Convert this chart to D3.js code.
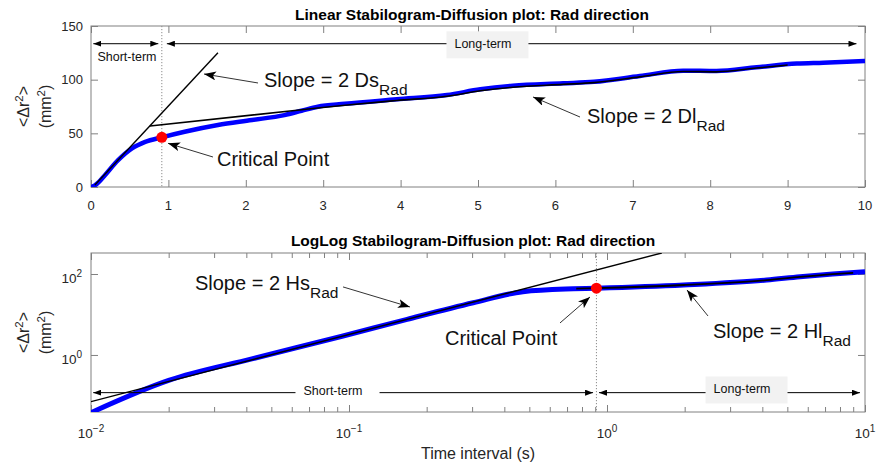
<!DOCTYPE html>
<html><head><meta charset="utf-8">
<script src="https://cdn.jsdelivr.net/npm/d3@7"></script>
<style>
body{margin:0;background:#fff}
text{font-family:"Liberation Sans",Arial,Helvetica,sans-serif}
</style>
</head><body>
<svg id="c" width="876" height="466"></svg>
<script>
// ---------------- DATA ----------------
// Linear panel: mean square displacement vs time interval
const linTime = [0, 0.05, 0.1, 0.18, 0.35, 0.53, 0.7, 0.915, 1.21, 1.64, 2.08, 2.5, 2.72, 2.93, 3.28, 3.95, 4.6, 5.03, 5.45, 6.1, 6.5, 7.09, 7.65, 8.08, 8.6, 9.12, 9.46, 10];
const linMSD  = [0, 1.5, 4.5, 11, 25, 36, 42, 46.3, 51.5, 57.8, 62.4, 67, 71, 74.8, 77.5, 81.7, 85.7, 91, 94.4, 96.6, 98, 103.4, 108.4, 108, 111.5, 115, 115.8, 117.4];
const linShortFitTime = [0.05, 1.64];
const linShortFitMSD  = [1.9, 125];
const linLongFitTime = [0.762, 2.6, 2.93, 3.28, 3.95, 4.6, 5.03, 5.45, 6.1, 6.5, 7.09, 7.65, 8.08, 8.6, 9.0];
const linLongFitMSD  = [56.8, 71, 73.6, 76.2, 80.6, 84.6, 89.6, 93, 95.6, 97.2, 102.6, 107.6, 107.3, 110.8, 113.6];
// LogLog panel
const logTime = [0.01, 0.02, 0.042, 0.094, 0.168, 0.303, 0.472, 0.74, 0.91, 1.98, 4.16, 5.6, 7.5, 10];
const logMSD  = [0.0376, 0.235, 0.8, 2.9, 7.6, 19.5, 36.5, 43, 44.6, 53.5, 70.9, 85.8, 100, 114];
const logShortFitTime = [0.01, 1.63];
const logShortFitMSD  = [0.0703, 330];
const logLongFitTime = [0.76, 0.91, 1.98, 4.16, 5.6, 7.5, 9.0];
const logLongFitMSD  = [43.3, 44.6, 53.5, 70.2, 84.5, 99, 107];
// Critical point (linear panel, loglog panel)
const criticalTime = [0.915, 0.91];
const criticalMSD  = [46.3, 44.5];
// Ticks
const linXTicks = [0, 1, 2, 3, 4, 5, 6, 7, 8, 9, 10];
const linYTicks = [0, 50, 100, 150];
const logXTicks = [0.01, 0.1, 1, 10];
const logXMinor = [0.02,0.03,0.04,0.05,0.06,0.07,0.08,0.09,0.2,0.3,0.4,0.5,0.6,0.7,0.8,0.9,2,3,4,5,6,7,8,9];
const logYTicks = [1, 100];
const titles = ["Linear Stabilogram-Diffusion plot: Rad direction", "LogLog Stabilogram-Diffusion plot: Rad direction"];
// Annotations (in data coordinates)
const linNotes = [
  {text:"Slope = 2 Ds", sub:"Rad", t:2.235, v:93.2, tailT:2.158, tailV:96.9, headT:1.46, headV:105.3},
  {text:"Critical Point", sub:"", t:1.628, v:19.1, tailT:1.576, tailV:27.95, headT:0.995, headV:40.7},
  {text:"Slope = 2 Dl", sub:"Rad", t:6.408, v:59.6, tailT:6.318, tailV:65.2, headT:5.711, headV:83.9}
];
const logNotes = [
  {text:"Slope = 2 Hs", sub:"Rad", t:0.02529, v:40.3, tailT:0.0948, tailV:47.9, headT:0.1723, headV:15.3},
  {text:"Critical Point", sub:"", t:0.2356, v:1.766, tailT:0.6574, tailV:6.17, headT:0.8593, headV:27.1},
  {text:"Slope = 2 Hl", sub:"Rad", t:2.576, v:2.556, tailT:2.463, tailV:9.19, headT:2.042, headV:40.3}
];
const linSpans = [
  {t0:0.03, t1:0.87, v:133.5, label:"Short-term", lt:0.465, lv:117.4, box:null},
  {t0:0.98, t1:9.89, v:133.5, label:"Long-term", lt:5.064, lv:129.2, box:"#f2f2f2"}
];
const logSpans = [
  {t0:0.0102, t1:0.883, v:0.1172, label:"Short-term", lt:0.0867, lv:0.1027, box:"#ffffff"},
  {t0:0.931, t1:9.56, v:0.1172, label:"Long-term", lt:3.337, lv:0.112, box:"#f2f2f2"}
];

// ---------------- LAYOUT ----------------
const svg = d3.select("#c");
const L = 91, R = 865;
const P1 = {top:26, bottom:187}, P2 = {top:253, bottom:412};
const FRAME = "#808080", TXT = "#262626";

const x1 = d3.scaleLinear().domain([0,10]).range([L,R]);
const y1 = d3.scaleLinear().domain([0,150]).range([P1.bottom,P1.top]);
const x2 = d3.scaleLog().domain([0.01,10]).range([L,R]);
const y2 = d3.scaleLog().domain([0.039,330]).range([P2.bottom,P2.top]);

const defs = svg.append("defs");
[["clip1",P1],["clip2",P2]].forEach(([id,P])=>{
  defs.append("clipPath").attr("id",id).append("rect")
    .attr("x",L).attr("y",P.top).attr("width",R-L).attr("height",P.bottom-P.top);
});
defs.append("marker").attr("id","head").attr("viewBox","0 0 12 9")
  .attr("refX",12).attr("refY",4.5).attr("markerWidth",12).attr("markerHeight",9)
  .attr("markerUnits","userSpaceOnUse").attr("orient","auto")
  .append("path").attr("d","M0,0 L12,4.5 L0,9 L3,4.5 Z").attr("fill","#000");
defs.append("marker").attr("id","span").attr("viewBox","0 0 8 6")
  .attr("refX",8).attr("refY",3).attr("markerWidth",8).attr("markerHeight",6)
  .attr("markerUnits","userSpaceOnUse").attr("orient","auto-start-reverse")
  .append("path").attr("d","M0,0 L8,3 L0,6 Z").attr("fill","#000");

function axes(P, x, y, xt, yt, xMinor){
  const g = svg.append("g");
  const mk = (gen, tr) => {
    const a = g.append("g").attr("transform",tr).call(gen);
    a.select(".domain").remove();
    a.selectAll(".tick line").attr("stroke",FRAME);
    a.selectAll(".tick text").remove();
  };
  mk(d3.axisBottom(x).tickValues(xt).tickSize(-7), `translate(0,${P.bottom})`);
  mk(d3.axisTop(x).tickValues(xt).tickSize(-7), `translate(0,${P.top})`);
  if (xMinor){
    mk(d3.axisBottom(x).tickValues(xMinor).tickSize(-5), `translate(0,${P.bottom})`);
    mk(d3.axisTop(x).tickValues(xMinor).tickSize(-5), `translate(0,${P.top})`);
  }
  mk(d3.axisLeft(y).tickValues(yt).tickSize(-7), `translate(${L},0)`);
  mk(d3.axisRight(y).tickValues(yt).tickSize(-7), `translate(${R},0)`);
  g.append("rect").attr("x",L).attr("y",P.top).attr("width",R-L).attr("height",P.bottom-P.top)
    .attr("fill","none").attr("stroke",FRAME).attr("stroke-width",1);
}

function pow10(g, x, y, val, anchor){
  const e = Math.round(Math.log10(val));
  const t = g.append("text").attr("x",x).attr("y",y).attr("text-anchor",anchor)
    .attr("font-size",13.5).attr("fill",TXT);
  t.append("tspan").text("10");
  t.append("tspan").attr("dy",-6).attr("font-size",10).text(String(e).replace("-","\u2212"));
}

function ylabel(cy){
  const t1 = svg.append("text").attr("transform",`translate(29,${cy}) rotate(-90)`)
    .attr("text-anchor","middle").attr("font-size",16).attr("fill",TXT);
  t1.append("tspan").text("<Δr");
  t1.append("tspan").attr("dy",-6).attr("font-size",11.5).text("2");
  t1.append("tspan").attr("dy",6).text(">");
  const t2 = svg.append("text").attr("transform",`translate(51,${cy}) rotate(-90)`)
    .attr("text-anchor","middle").attr("font-size",16).attr("fill",TXT);
  t2.append("tspan").text("(mm");
  t2.append("tspan").attr("dy",-6).attr("font-size",11.5).text("2");
  t2.append("tspan").attr("dy",6).text(")");
}

function notes(list, x, y){
  list.forEach(n=>{
    svg.append("line").attr("x1",x(n.tailT)).attr("y1",y(n.tailV))
      .attr("x2",x(n.headT)).attr("y2",y(n.headV))
      .attr("stroke","#333").attr("stroke-width",1).attr("marker-end","url(#head)");
    const t = svg.append("text").attr("x",x(n.t)).attr("y",y(n.v))
      .attr("font-size",20).attr("fill","#111");
    t.append("tspan").text(n.text);
    if (n.sub) t.append("tspan").attr("dy",8).attr("font-size",15.5).text(n.sub);
  });
}

function spans(list, x, y){
  list.forEach(s=>{
    svg.append("line").attr("x1",x(s.t0)).attr("x2",x(s.t1)).attr("y1",y(s.v)).attr("y2",y(s.v))
      .attr("stroke","#000").attr("stroke-width",1)
      .attr("marker-start","url(#span)").attr("marker-end","url(#span)");
    const g = svg.append("g");
    const t = g.append("text").attr("x",x(s.lt)).attr("y",y(s.lv)).attr("text-anchor","middle")
      .attr("font-size",12.5).attr("fill","#111").text(s.label);
    if (s.box){
      const b = t.node().getBBox();
      g.insert("rect","text").attr("x",b.x-8).attr("y",b.y-6)
        .attr("width",b.width+25).attr("height",b.height+13).attr("fill",s.box);
    }
  });
}

// ---------------- PANEL 1 (linear) ----------------
axes(P1, x1, y1, linXTicks, linYTicks, null);
linXTicks.forEach(t=> svg.append("text").attr("x",x1(t)).attr("y",P1.bottom+22.5)
  .attr("text-anchor","middle").attr("font-size",13).attr("fill",TXT).text(t));
linYTicks.forEach(v=> svg.append("text").attr("x",L-8).attr("y",y1(v)+4.5)
  .attr("text-anchor","end").attr("font-size",13).attr("fill",TXT).text(v));
svg.append("text").attr("x",472).attr("y",20).attr("text-anchor","middle")
  .attr("font-size",15.5).attr("font-weight","bold").attr("fill","#000").text(titles[0]);
ylabel((P1.top+P1.bottom)/2);

const c1 = svg.append("g").attr("clip-path","url(#clip1)");
c1.append("line").attr("x1",x1(criticalTime[0])).attr("x2",x1(criticalTime[0]))
  .attr("y1",P1.top).attr("y2",P1.bottom).attr("stroke","#8c8c8c").attr("stroke-dasharray","1.2,1.8");
const line1 = d3.line().x(d=>x1(d[0])).y(d=>y1(d[1])).curve(d3.curveMonotoneX);
c1.append("path").attr("d",line1(d3.zip(linTime,linMSD))).attr("fill","none")
  .attr("stroke","#0000ff").attr("stroke-width",4.5).attr("stroke-linejoin","round");
c1.append("path").attr("d",d3.line().x(d=>x1(d[0])).y(d=>y1(d[1]))(d3.zip(linShortFitTime,linShortFitMSD)))
  .attr("fill","none").attr("stroke","#000").attr("stroke-width",1.4);
c1.append("path").attr("d",line1(d3.zip(linLongFitTime,linLongFitMSD))).attr("fill","none")
  .attr("stroke","#000").attr("stroke-width",1.6);
c1.append("circle").attr("cx",x1(criticalTime[0])).attr("cy",y1(criticalMSD[0])).attr("r",5.5).attr("fill","#ff0000");
spans(linSpans, x1, y1);
notes(linNotes, x1, y1);

// ---------------- PANEL 2 (loglog) ----------------
axes(P2, x2, y2, logXTicks, logYTicks, logXMinor);
logXTicks.forEach(t=> pow10(svg, x2(t), 438, t, "middle"));
logYTicks.forEach(v=> pow10(svg, L-9, y2(v)+9, v, "end"));
svg.append("text").attr("x",473).attr("y",246).attr("text-anchor","middle")
  .attr("font-size",15.5).attr("font-weight","bold").attr("fill","#000").text(titles[1]);
ylabel((P2.top+P2.bottom)/2);
svg.append("text").attr("x",(L+R)/2).attr("y",459).attr("text-anchor","middle")
  .attr("font-size",16).attr("fill",TXT).text("Time interval (s)");

const c2 = svg.append("g").attr("clip-path","url(#clip2)");
c2.append("line").attr("x1",x2(criticalTime[1])).attr("x2",x2(criticalTime[1]))
  .attr("y1",P2.top).attr("y2",P2.bottom).attr("stroke","#8c8c8c").attr("stroke-dasharray","1.2,1.8");
const line2 = d3.line().x(d=>x2(d[0])).y(d=>y2(d[1])).curve(d3.curveMonotoneX);
c2.append("path").attr("d",line2(d3.zip(logTime,logMSD))).attr("fill","none")
  .attr("stroke","#0000ff").attr("stroke-width",5).attr("stroke-linejoin","round");
c2.append("path").attr("d",d3.line().x(d=>x2(d[0])).y(d=>y2(d[1]))(d3.zip(logShortFitTime,logShortFitMSD)))
  .attr("fill","none").attr("stroke","#000").attr("stroke-width",1.4);
c2.append("path").attr("d",line2(d3.zip(logLongFitTime,logLongFitMSD))).attr("fill","none")
  .attr("stroke","#000").attr("stroke-width",1.8);
c2.append("circle").attr("cx",x2(criticalTime[1])).attr("cy",y2(criticalMSD[1])).attr("r",5.5).attr("fill","#ff0000");
spans(logSpans, x2, y2);
notes(logNotes, x2, y2);
</script>
</body></html>
